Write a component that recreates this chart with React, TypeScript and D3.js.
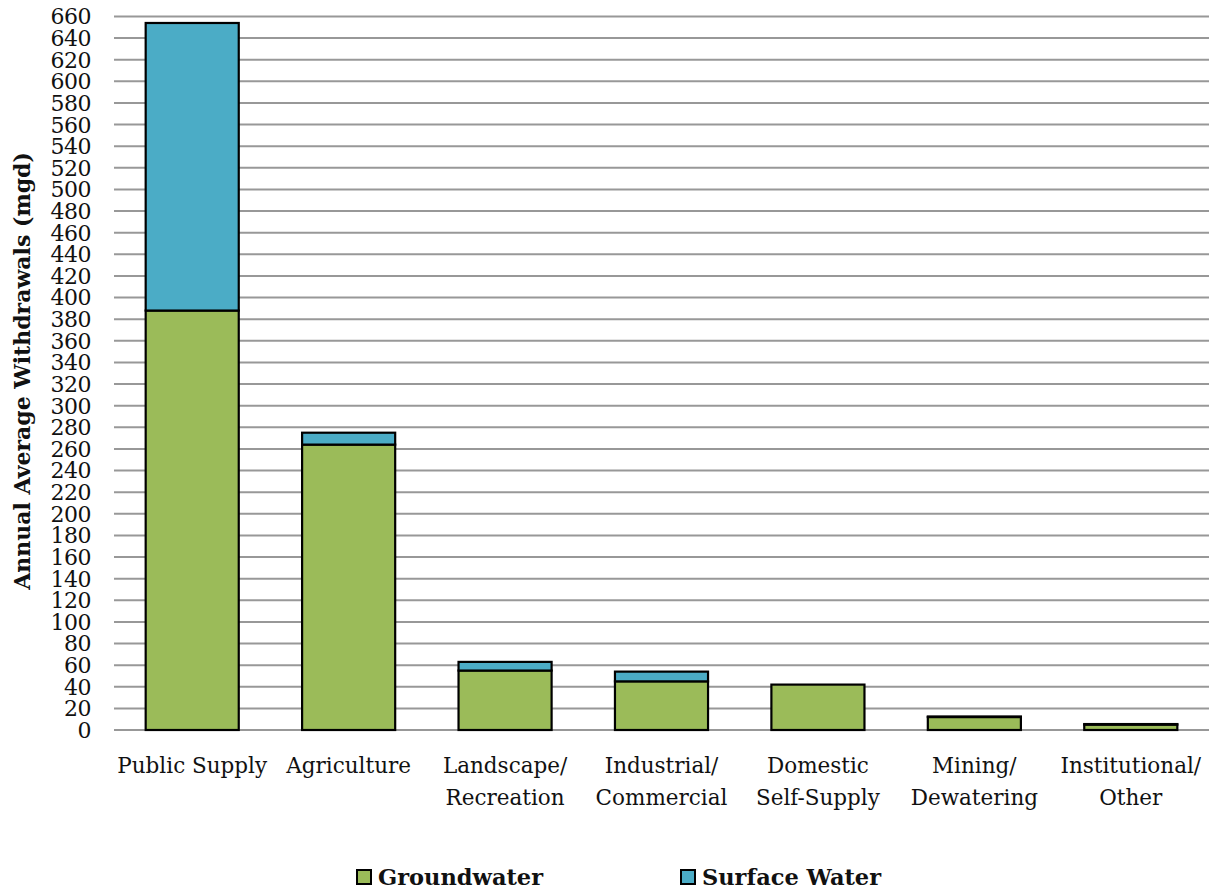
import React from "react";
import * as d3 from "d3";

const categories = [
  ["Public Supply"],
  ["Agriculture"],
  ["Landscape/", "Recreation"],
  ["Industrial/", "Commercial"],
  ["Domestic", "Self-Supply"],
  ["Mining/", "Dewatering"],
  ["Institutional/", "Other"],
];
const groundwater = [388, 264, 55, 45, 42, 12, 5];
const surfaceWater = [266, 11, 8, 9, 0, 0.5, 0.5];
const yTicks = d3.range(0, 661, 20);
const seriesNames = ["Groundwater", "Surface Water"];
const colors = ["#9BBB59", "#4BACC6"];

const W = 1214;
const H = 892;
const FONT = "'DejaVu Serif', serif";

export default function App() {
  const keys = categories.map((c) => c.join(" "));
  const x = d3
    .scaleBand<string>()
    .domain(keys)
    .range([114, 1209])
    .paddingInner(0.405)
    .paddingOuter(0.2025);
  const y = d3.scaleLinear().domain([0, 660]).range([730, 16.5]);

  const data = keys.map((k, i) => ({ key: k, gw: groundwater[i], sw: surfaceWater[i] }));
  const stack = d3.stack<any>().keys(["gw", "sw"])(data);

  return (
    <svg
      width={W}
      height={H}
      style={{ position: "absolute", left: 0, top: 0, background: "#fff" }}
      fontFamily={FONT}
    >
      {yTicks.map((t) => (
        <line key={t} x1={114} x2={1209} y1={y(t)} y2={y(t)} stroke="#989898" strokeWidth={2} />
      ))}
      {yTicks.map((t) => (
        <text key={"l" + t} x={91} y={y(t)} dy="0.36em" textAnchor="end" fontSize={22} fill="#111" letterSpacing={-0.5}>
          {t}
        </text>
      ))}
      <text
        transform={`translate(29.5,371) rotate(-90)`}
        textAnchor="middle"
        fontSize={22}
        fontWeight="bold"
        fill="#111"
      >
        Annual Average Withdrawals (mgd)
      </text>
      {stack.map((s, si) =>
        s.map((d: any, i: number) => {
          const h = y(d[0]) - y(d[1]);
          if (h <= 0) return null;
          return (
            <rect
              key={si + "-" + i}
              x={x(keys[i])}
              width={x.bandwidth()}
              y={y(d[1])}
              height={h}
              fill={colors[si]}
              stroke="#000"
              strokeWidth={2.2}
            />
          );
        })
      )}
      {categories.map((c, i) =>
        c.map((line, li) => (
          <text
            key={i + "-" + li}
            x={(x(keys[i]) as number) + x.bandwidth() / 2}
            y={773 + li * 32}
            textAnchor="middle"
            fontSize={21.5}
            fill="#111"
          >
            {line}
          </text>
        ))
      )}
      {seriesNames.map((n, i) => {
        const lx = [357, 681][i];
        return (
          <g key={n}>
            <rect x={lx} y={870} width={14} height={14} fill={colors[i]} stroke="#000" strokeWidth={2} />
            <text x={lx + 21} y={885} fontSize={22.5} fontWeight="bold" fill="#111">
              {n}
            </text>
          </g>
        );
      })}
    </svg>
  );
}
